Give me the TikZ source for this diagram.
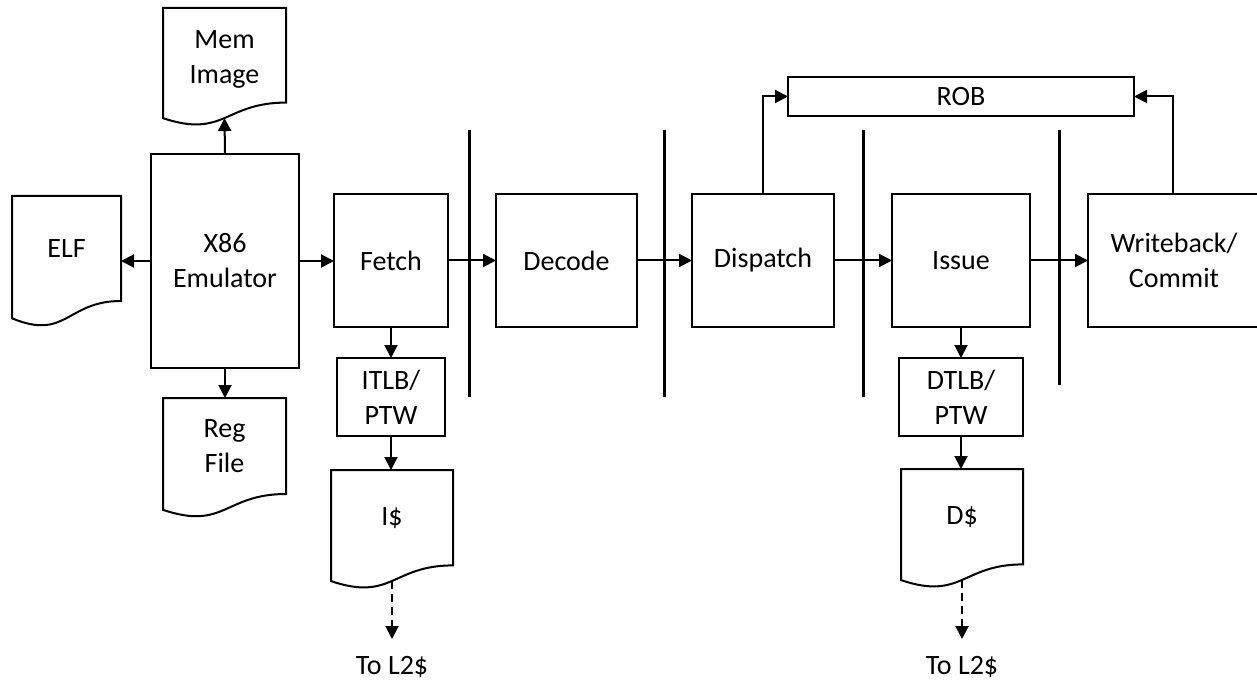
\documentclass[tikz,border=0pt]{standalone}
\usepackage{fontspec}
\setmainfont{Carlito}
\usetikzlibrary{calc,arrows.meta}
\newcommand\docwave[2]{%
  \draw[line width=2pt, line join=miter] (#1.north west) -- (#1.north east) -- (#1.south east)
    .. controls (#1.south) and ($(#1.south)+(0,0.305*#2)$) .. ($(#1.south west)+(0,0.132*#2)$) -- cycle;}
\begin{document}
\begin{tikzpicture}[x=1pt,y=-1pt,
  box/.style={draw, line width=2pt, inner sep=0pt, outer sep=0pt, align=center},
  docnode/.style={inner sep=0pt, outer sep=0pt, align=center},
  arr/.style={line width=2pt, -{Triangle[length=13pt,width=13pt]}},
  darr/.style={arr, dash pattern=on 8pt off 5pt},
  barrier/.style={line width=3pt},
  font=\fontsize{28}{35}\selectfont]
\fill[white] (0,0) rectangle (1257,684);
\useasboundingbox (0,0) rectangle (1257,684);

% emulator and its files
\node[box, minimum width=148pt, minimum height=214pt] (emu) at (225,261) {X86\\Emulator};
\node[docnode, minimum width=123pt, minimum height=94.6pt, anchor=north west] (mem) at (163,8) {};
\node[docnode] (memtext) at ($(mem.center)+(0,4)$) {Mem\\Image};
\docwave{mem}{118}
\node[docnode, minimum width=109pt, minimum height=105pt, anchor=north west] (elf) at (12,196) {ELF};
\docwave{elf}{131}
\node[docnode, minimum width=123pt, minimum height=96pt, anchor=north west] (reg) at (163,398) {Reg\\File};
\docwave{reg}{120}
\coordinate (memb) at ($(mem.south)+(0,0.131*118)$);

% pipeline stages
\node[box, minimum width=114pt, minimum height=133pt] (fetch) at (391,260.5) {Fetch};
\node[box, minimum width=141pt, minimum height=133pt] (dec) at (566.5,260.5) {Decode};
\node[box, minimum width=142pt, minimum height=133pt] (disp) at (763,260.5) {Dispatch};
\node[box, minimum width=138pt, minimum height=133pt] (iss) at (961,260.5) {Issue};
\node[box, minimum width=172pt, minimum height=133pt] (wb) at (1174,260.5) {Writeback/\\Commit};
\node[box, minimum width=346pt, minimum height=39pt] (rob) at (961,96.5) {ROB};

% TLBs and caches
\node[box, minimum width=108pt, minimum height=78pt] (itlb) at (391,397) {ITLB/\\PTW};
\node[box, minimum width=124pt, minimum height=78pt] (dtlb) at (961,397) {DTLB/\\PTW};
\node[docnode, minimum width=122pt, minimum height=95.4pt, anchor=north west] (ic) at (331,470) {I\$};
\docwave{ic}{119}
\node[docnode, minimum width=122pt, minimum height=95.4pt, anchor=north west] (dc) at (901,469) {D\$};
\docwave{dc}{119}
\coordinate (icb) at ($(ic.south)+(0,0.131*119)$);
\coordinate (dcb) at ($(dc.south)+(0,0.131*119)$);
\node[docnode] (il2) at (392,667) {To L2\$};
\node[docnode] (dl2) at (962,667) {To L2\$};
\coordinate (iend) at (392,639);
\coordinate (dend) at (962,639);

% pipeline barriers
\draw[barrier] (469,130) -- (469,397);
\draw[barrier] (664,130) -- (664,397);
\draw[barrier] (863,130) -- (863,397);
\draw[barrier] (1059,130) -- (1059,385);

% connectors
\draw[arr] (emu.north) -- (memb);
\draw[arr] (emu.west) -- (emu.west -| elf.east);
\draw[arr] (emu.south) -- (emu.south |- reg.north);
\draw[arr] (emu.east) -- (emu.east -| fetch.west);
\draw[arr] (fetch.east) -- (dec.west);
\draw[arr] (dec.east) -- (disp.west);
\draw[arr] (disp.east) -- (iss.west);
\draw[arr] (iss.east) -- (wb.west);
\draw[arr] (disp.north) |- (rob.west);
\draw[arr] ($(wb.north west)+(85,0)$) |- (rob.east);
\draw[arr] (fetch.south) -- (itlb.north);
\draw[arr] (itlb.south) -- (itlb.south |- ic.north);
\draw[arr] (iss.south) -- (dtlb.north);
\draw[arr] (dtlb.south) -- (dtlb.south |- dc.north);
\draw[darr] (icb) -- (iend);
\draw[darr] (dcb) -- (dend);
\end{tikzpicture}
\end{document}
